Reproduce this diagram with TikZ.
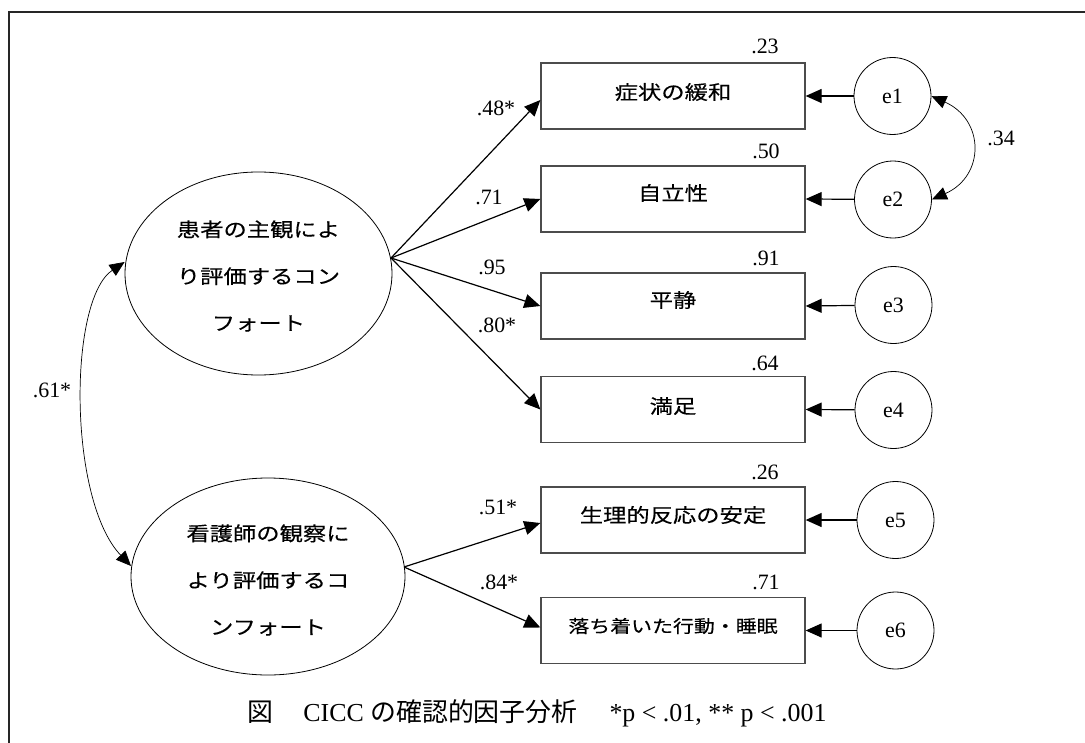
\documentclass[tikz,border=0pt]{standalone}
\usepackage{fontspec}
\setmainfont{Liberation Serif}
\newfontfamily\jp[FakeStretch=1.2,FakeBold=0.3]{Noto Sans CJK JP}
\newfontfamily\jpc{Noto Sans CJK JP}
\usetikzlibrary{arrows.meta,shapes.geometric}
\begin{document}
\begin{tikzpicture}[x=1bp,y=-1bp,
  latent/.style={draw, ellipse, line width=0.8bp, inner sep=0},
  obs/.style={draw=black!70, line width=1.3bp, minimum width=264bp, minimum height=66bp, inner sep=0},
  err/.style={draw, circle, line width=0.8bp, minimum size=77bp, inner sep=0, font=\fontsize{22}{22}\selectfont},
  pth/.style={line width=1.2bp, -{Triangle[length=16bp,width=14bp]}},
  cov/.style={line width=0.7bp, {Triangle[length=15bp,width=13bp]}-{Triangle[length=15bp,width=13bp]}},
  num/.style={inner sep=0, font=\fontsize{22}{22}\selectfont},
  jtext/.style={inner sep=0, align=center, font=\jp\fontsize{19.5}{47}\selectfont},
  btext/.style={inner sep=0, font=\jp\fontsize{19.5}{22}\selectfont}
]
\useasboundingbox (0,0) rectangle (1085,743);
% frame
\draw[line width=2bp, black!85] (9,745) -- (9,12.5) -- (1087,12.5);

% latent variables
\node[latent, minimum width=267bp, minimum height=203bp] (L1) at (258.5,273.5) {};
\node[jtext] (L1t) at (258.5,276) {患者の主観によ\\り評価するコン\\フォート};
\node[latent, minimum width=274bp, minimum height=197bp] (L2) at (268,576.5) {};
\node[jtext] (L2t) at (268,580) {看護師の観察に\\より評価するコ\\ンフォート};

% observed variables
\node[obs] (B1) at (673,96) {};
\node[obs] (B2) at (673,199) {};
\node[obs] (B3) at (673,306) {};
\node[obs] (B4) at (673,409.5) {};
\node[obs] (B5) at (673,520) {};
\node[obs] (B6) at (673,630.5) {};
\node[btext] (t1) at (673,92) {症状の緩和};
\node[btext] (t2) at (673,193) {自立性};
\node[btext] (t3) at (673,300) {平静};
\node[btext] (t4) at (673,406) {満足};
\node[btext] (t5) at (673,515) {生理的反応の安定};
\node[inner sep=0, font=\jp\fontsize{17.5}{20}\selectfont] (t6) at (673,626) {落ち着いた行動・睡眠};

% squared multiple correlations
\node[num] (r1) at (765,46) {.23};
\node[num] (r2) at (766,151) {.50};
\node[num] (r3) at (766,258) {.91};
\node[num] (r4) at (765,363) {.64};
\node[num] (r5) at (765,472) {.26};
\node[num] (r6) at (766,582) {.71};

% errors
\node[err] (e1) at (892.5,96) {e1};
\node[err] (e2) at (893,199.5) {e2};
\node[err] (e3) at (893.5,305) {e3};
\node[err] (e4) at (893.5,410) {e4};
\node[err] (e5) at (895.5,520) {e5};
\node[err] (e6) at (895.5,630.5) {e6};

\foreach \i in {1,...,6} {\draw[pth] (e\i) -- (B\i.east);}

% loadings
\coordinate (s1) at (391,258);
\coordinate (s2) at (404,567);
\draw[pth] (s1) -- ([yshift=-4bp]B1.west);
\draw[pth] (s1) -- (B2.west);
\draw[pth] (s1) -- (B3.west);
\draw[pth] (s1) -- (B4.west);
\draw[pth] (s2) -- ([yshift=-3bp]B5.west);
\draw[pth] (s2) -- ([yshift=3bp]B6.west);

\node[num] (l1) at (496,108) {.48*};
\node[num] (l2) at (489,197) {.71};
\node[num] (l3) at (492,267) {.95};
\node[num] (l4) at (497,325) {.80*};
\node[num] (l5) at (498,507) {.51*};
\node[num] (l6) at (499,582) {.84*};

% covariances
\draw[cov] (e1.east) .. controls (985,120) and (985,176) .. (e2.east);
\node[num] (c1) at (1001,138) {.34};
\draw[cov] (L1.west |- 0,262) .. controls (68,300) and (68,500) .. (131,566);
\node[num] (c2) at (52,390) {.61*};

% caption
\node[inner sep=0, font=\fontsize{26}{26}\selectfont] (cap) at (537,713)
  {{\jpc 図}\hspace{30bp}CICC {\jpc の確認的因子分析}\hspace{32bp}*p < .01, ** p < .001};
\end{tikzpicture}
\end{document}
